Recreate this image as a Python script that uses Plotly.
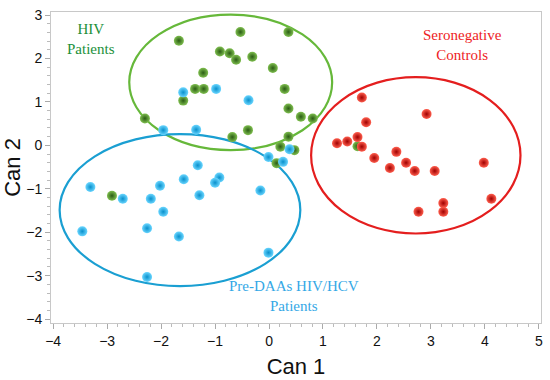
import plotly.graph_objects as go

# ---- data ----
hiv_x = [-1.67, -0.53, 0.36, -0.91, -0.73, -0.61, -0.31, 0.07, -1.22, -1.37, -1.21, -1.59,
         0.29, 0.36, 0.59, 0.81, -2.30, -0.39, -0.68, 0.36, 0.21, 0.47, 0.14, -2.91, 1.64]
hiv_y = [2.41, 2.61, 2.61, 2.16, 2.12, 1.97, 2.04, 1.78, 1.67, 1.30, 1.30, 1.03,
         1.30, 0.85, 0.66, 0.62, 0.62, 0.35, 0.19, 0.20, -0.03, -0.11, -0.41, -1.16, -0.02]

coinf_x = [-1.59, -0.98, -0.38, -1.96, -1.35, 0.38, -0.01, 0.26, -1.32, -0.92, -1.00, -1.58,
           -2.02, -3.31, -2.71, -2.19, -1.29, -0.16, -1.96, -2.26, -3.46, -1.67, -0.01, -2.26]
coinf_y = [1.22, 1.30, 1.04, 0.35, 0.36, -0.09, -0.27, -0.38, -0.46, -0.74, -0.86, -0.78,
           -0.93, -0.96, -1.23, -1.23, -1.15, -1.04, -1.53, -1.91, -1.98, -2.10, -2.47, -3.03]

ctrl_x = [1.72, 2.92, 1.80, 1.26, 1.45, 1.64, 1.72, 1.95, 2.36, 2.24, 2.54, 2.70,
          3.07, 3.98, 4.12, 3.23, 3.23, 2.77]
ctrl_y = [1.10, 0.72, 0.53, 0.05, 0.09, 0.19, -0.03, -0.29, -0.15, -0.52, -0.40, -0.59,
          -0.59, -0.40, -1.23, -1.33, -1.53, -1.53]

# ellipse params: center x, center y, radius x, radius y
ell_hiv = [-0.71, 1.45, 1.88, 1.56]
ell_coinf = [-1.65, -1.49, 2.23, 1.75]
ell_ctrl = [2.72, -0.23, 1.94, 1.80]

labels = ["HIV<br>Patients", "Pre-DAAs HIV/HCV<br>Patients", "Seronegative<br>Controls"]
label_pos = [(-3.29, 2.44), (0.47, -3.46), (3.59, 2.32)]

x_ticks = [-4, -3, -2, -1, 0, 1, 2, 3, 4, 5]
y_ticks = [-4, -3, -2, -1, 0, 1, 2, 3]

# ---- styles ----
ell_colors = ["#66b83a", "#1a9fd2", "#e41e1e"]
pt_center = ["#7fbf4f", "#6ad6ff", "#ff5e4e"]
pt_edge = ["#2a5c14", "#0990cc", "#a00000"]
txt_colors = ["#21903a", "#35a8e6", "#ee1c24"]

fig = go.Figure()

shapes = []
for (cx, cy, rx, ry), col in zip([ell_hiv, ell_coinf, ell_ctrl], ell_colors):
    shapes.append(dict(type="circle", xref="x", yref="y",
                       x0=cx - rx, x1=cx + rx, y0=cy - ry, y1=cy + ry,
                       line=dict(color=col, width=2.2), layer="below"))

for xs, ys, i, name in [(hiv_x, hiv_y, 0, "HIV"), (coinf_x, coinf_y, 1, "HIV/HCV"),
                        (ctrl_x, ctrl_y, 2, "Controls")]:
    fig.add_trace(go.Scatter(
        x=xs, y=ys, mode="markers", name=name, showlegend=False,
        marker=dict(size=10, color=pt_center[i],
                    gradient=dict(type="radial", color=pt_edge[i]),
                    line=dict(width=0))))

annotations = []
for (tx, ty), txt, col in zip(label_pos, labels, txt_colors):
    annotations.append(dict(x=tx, y=ty, xref="x", yref="y", text=txt, showarrow=False,
                            font=dict(family="Liberation Serif, Times New Roman, serif",
                                      size=15, color=col)))

axis_common = dict(showgrid=False, zeroline=False, showline=True, linecolor="#c8c8c8",
                   linewidth=1, mirror=True, ticks="outside", ticklen=5, tickcolor="#aaaaaa",
                   automargin=False,
                   tickfont=dict(family="Liberation Sans, Arial, sans-serif", size=14, color="#111"),
                   minor=dict(dtick=0.2, ticks="outside", ticklen=3, tickcolor="#bbbbbb"))

fig.update_layout(
    width=550, height=380,
    margin=dict(l=51, r=9, t=12, b=57),
    paper_bgcolor="white", plot_bgcolor="white",
    shapes=shapes, annotations=annotations,
    xaxis=dict(range=[-4.04, 5.04], tickvals=x_ticks,
               title=dict(text="Can 1", standoff=10,
                          font=dict(family="Liberation Sans, Arial, sans-serif", size=22, color="#111")),
               **axis_common),
    yaxis=dict(range=[-4.09, 3.07], tickvals=y_ticks,
               title=dict(text="Can 2", standoff=10,
                          font=dict(family="Liberation Sans, Arial, sans-serif", size=22, color="#111")),
               **axis_common),
)

fig.write_html("out.html", config={"displayModeBar": False},
               post_script="document.body.style.margin='0px';document.body.style.overflow='hidden';")
